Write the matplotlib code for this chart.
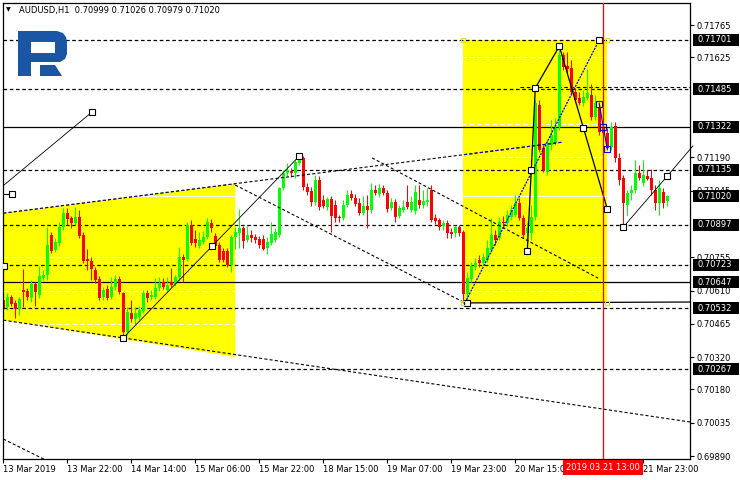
import numpy as np
import matplotlib
matplotlib.use("Agg")
import matplotlib.pyplot as plt
from matplotlib.patches import Polygon, Rectangle
from matplotlib.transforms import blended_transform_factory

plt.rcParams['font.family'] = ['DejaVu Sans']
plt.rcParams['lines.scale_dashes'] = False

# AUDUSD H1 candles, bar 0 = 13 Mar 2019 06:00
opens = [
    0.70569, 0.70539, 0.70582, 0.70556, 0.70530, 0.70613, 0.70608, 0.70578, 0.70639, 0.70591,
    0.70665, 0.70678, 0.70852, 0.70786, 0.70817, 0.70887, 0.70948, 0.70926, 0.70904, 0.70930,
    0.70852, 0.70747, 0.70739, 0.70700, 0.70660, 0.70582, 0.70617, 0.70582, 0.70626, 0.70660,
    0.70599, 0.70430, 0.70513, 0.70486, 0.70495, 0.70521, 0.70599, 0.70582, 0.70582, 0.70621,
    0.70647, 0.70613, 0.70647, 0.70639, 0.70669, 0.70756, 0.70747, 0.70895, 0.70834, 0.70804,
    0.70821, 0.70843, 0.70904, 0.70847, 0.70808, 0.70782, 0.70782, 0.70721, 0.70843, 0.70861,
    0.70882, 0.70830, 0.70852, 0.70843, 0.70834, 0.70834, 0.70795, 0.70817, 0.70830, 0.70852,
    0.71056, 0.71121, 0.71130, 0.71121, 0.71165, 0.71187, 0.71061, 0.71043, 0.70995, 0.71091,
    0.71004, 0.70974, 0.71008, 0.70982, 0.70930, 0.70926, 0.70982, 0.71030, 0.71013, 0.70991,
    0.70948, 0.70978, 0.70961, 0.71048, 0.71030, 0.71056, 0.71035, 0.70969, 0.70995, 0.70934,
    0.70961, 0.70995, 0.70961, 0.70956, 0.71004, 0.70982, 0.70995, 0.71048, 0.70926, 0.70917,
    0.70891, 0.70904, 0.70865, 0.70861, 0.70887, 0.70865, 0.70595, 0.70660, 0.70713, 0.70743,
    0.70730, 0.70743, 0.70786, 0.70852, 0.70839, 0.70908, 0.70904, 0.70930, 0.70939, 0.70991,
    0.70926, 0.70861, 0.70861, 0.70930, 0.71417, 0.71230, 0.71126, 0.71243, 0.71252, 0.71322,
    0.71635, 0.71587, 0.71578, 0.71474, 0.71448, 0.71426, 0.71448, 0.71461, 0.71365, 0.71409,
    0.71317, 0.71295, 0.71235, 0.71326, 0.71187, 0.71100, 0.70982, 0.71035, 0.71048, 0.71121,
    0.71078, 0.71108, 0.71100, 0.71048, 0.70991, 0.71039, 0.70999]
highs = [
    0.70582, 0.70599, 0.70591, 0.70569, 0.70582, 0.70704, 0.70621, 0.70656, 0.70647, 0.70717,
    0.70700, 0.70887, 0.70865, 0.70839, 0.70908, 0.70969, 0.70969, 0.70934, 0.70974, 0.70961,
    0.70865, 0.70791, 0.70756, 0.70713, 0.70673, 0.70626, 0.70634, 0.70669, 0.70678, 0.70673,
    0.70604, 0.70539, 0.70569, 0.70539, 0.70543, 0.70613, 0.70613, 0.70613, 0.70665, 0.70669,
    0.70665, 0.70669, 0.70708, 0.70678, 0.70800, 0.70769, 0.70908, 0.70917, 0.70874, 0.70865,
    0.70869, 0.70926, 0.70921, 0.70861, 0.70821, 0.70795, 0.70795, 0.70852, 0.70887, 0.70965,
    0.70891, 0.70891, 0.70874, 0.70856, 0.70847, 0.70852, 0.70843, 0.70908, 0.70882, 0.71061,
    0.71135, 0.71165, 0.71143, 0.71178, 0.71195, 0.71195, 0.71078, 0.71061, 0.71113, 0.71108,
    0.71026, 0.71017, 0.71021, 0.71004, 0.70939, 0.71004, 0.71048, 0.71048, 0.71030, 0.71013,
    0.71021, 0.71026, 0.71078, 0.71069, 0.71074, 0.71069, 0.71048, 0.71013, 0.71008, 0.70982,
    0.71004, 0.71069, 0.71021, 0.71069, 0.71069, 0.71048, 0.71056, 0.71069, 0.70943, 0.70926,
    0.70917, 0.70917, 0.70882, 0.70895, 0.70895, 0.70874, 0.70691, 0.70734, 0.70752, 0.70765,
    0.70774, 0.70830, 0.70926, 0.70874, 0.70930, 0.70934, 0.70961, 0.70982, 0.71026, 0.71013,
    0.70939, 0.70908, 0.70982, 0.71439, 0.71439, 0.71243, 0.71265, 0.71352, 0.71361, 0.71674,
    0.71648, 0.71648, 0.71613, 0.71491, 0.71474, 0.71482, 0.71574, 0.71509, 0.71461, 0.71430,
    0.71343, 0.71317, 0.71343, 0.71343, 0.71209, 0.71113, 0.71048, 0.71069, 0.71178, 0.71156,
    0.71178, 0.71135, 0.71139, 0.71069, 0.71091, 0.71056, 0.71026]
lows = [
    0.70526, 0.70526, 0.70543, 0.70491, 0.70504, 0.70539, 0.70569, 0.70560, 0.70543, 0.70578,
    0.70656, 0.70656, 0.70774, 0.70778, 0.70804, 0.70874, 0.70895, 0.70882, 0.70895, 0.70839,
    0.70730, 0.70700, 0.70656, 0.70643, 0.70569, 0.70569, 0.70569, 0.70573, 0.70613, 0.70595,
    0.70404, 0.70417, 0.70473, 0.70460, 0.70482, 0.70513, 0.70560, 0.70569, 0.70573, 0.70608,
    0.70617, 0.70604, 0.70626, 0.70630, 0.70656, 0.70647, 0.70739, 0.70808, 0.70800, 0.70795,
    0.70813, 0.70834, 0.70865, 0.70795, 0.70734, 0.70734, 0.70713, 0.70691, 0.70791, 0.70795,
    0.70795, 0.70821, 0.70821, 0.70817, 0.70795, 0.70786, 0.70769, 0.70808, 0.70821, 0.70843,
    0.71048, 0.71108, 0.71104, 0.71100, 0.71156, 0.71048, 0.71026, 0.70978, 0.70982, 0.70961,
    0.70969, 0.70961, 0.70865, 0.70908, 0.70908, 0.70917, 0.70974, 0.71004, 0.70978, 0.70939,
    0.70939, 0.70882, 0.70948, 0.71026, 0.71017, 0.71026, 0.70952, 0.70961, 0.70908, 0.70926,
    0.70952, 0.70965, 0.70952, 0.70943, 0.70969, 0.70969, 0.70978, 0.70908, 0.70900, 0.70874,
    0.70874, 0.70839, 0.70839, 0.70843, 0.70847, 0.70565, 0.70560, 0.70647, 0.70700, 0.70713,
    0.70721, 0.70734, 0.70778, 0.70808, 0.70830, 0.70882, 0.70891, 0.70917, 0.70930, 0.70917,
    0.70839, 0.70830, 0.70830, 0.70917, 0.71213, 0.71126, 0.71113, 0.71222, 0.71243, 0.71309,
    0.71570, 0.71556, 0.71461, 0.71430, 0.71417, 0.71413, 0.71439, 0.71352, 0.71352, 0.71287,
    0.71282, 0.71222, 0.71222, 0.71169, 0.71069, 0.70891, 0.70939, 0.71004, 0.71035, 0.71091,
    0.71065, 0.71091, 0.71026, 0.70961, 0.70939, 0.70969, 0.70979]
closes = [
    0.70534, 0.70582, 0.70552, 0.70530, 0.70573, 0.70604, 0.70582, 0.70639, 0.70604, 0.70673,
    0.70678, 0.70808, 0.70782, 0.70821, 0.70887, 0.70948, 0.70921, 0.70904, 0.70930, 0.70847,
    0.70739, 0.70739, 0.70704, 0.70656, 0.70578, 0.70613, 0.70578, 0.70626, 0.70660, 0.70604,
    0.70430, 0.70517, 0.70486, 0.70513, 0.70526, 0.70599, 0.70578, 0.70591, 0.70621, 0.70643,
    0.70626, 0.70634, 0.70634, 0.70669, 0.70756, 0.70743, 0.70895, 0.70817, 0.70817, 0.70830,
    0.70843, 0.70908, 0.70882, 0.70804, 0.70743, 0.70743, 0.70721, 0.70843, 0.70865, 0.70882,
    0.70826, 0.70852, 0.70839, 0.70830, 0.70808, 0.70791, 0.70821, 0.70856, 0.70865, 0.71056,
    0.71121, 0.71135, 0.71121, 0.71169, 0.71191, 0.71061, 0.71039, 0.70995, 0.71091, 0.70974,
    0.70978, 0.71008, 0.70934, 0.70926, 0.70926, 0.70982, 0.71026, 0.71013, 0.70987, 0.70948,
    0.70978, 0.70961, 0.71048, 0.71035, 0.71056, 0.71035, 0.70965, 0.70995, 0.70930, 0.70969,
    0.70974, 0.70974, 0.70995, 0.71039, 0.70982, 0.71000, 0.71004, 0.70917, 0.70913, 0.70887,
    0.70904, 0.70861, 0.70856, 0.70887, 0.70861, 0.70595, 0.70665, 0.70717, 0.70730, 0.70730,
    0.70756, 0.70795, 0.70852, 0.70830, 0.70908, 0.70904, 0.70939, 0.70961, 0.70991, 0.70926,
    0.70852, 0.70882, 0.70930, 0.71426, 0.71222, 0.71135, 0.71243, 0.71287, 0.71317, 0.71635,
    0.71583, 0.71574, 0.71474, 0.71439, 0.71426, 0.71452, 0.71469, 0.71365, 0.71426, 0.71300,
    0.71295, 0.71230, 0.71322, 0.71187, 0.71091, 0.70991, 0.71035, 0.71048, 0.71121, 0.71100,
    0.71113, 0.71095, 0.71048, 0.70991, 0.71056, 0.70991, 0.71020]

time_ticks = [0, 16, 32, 48, 64, 80, 96, 112, 128, 160]
time_labels = ['13 Mar 2019', '13 Mar 22:00', '14 Mar 14:00', '15 Mar 06:00', '15 Mar 22:00',
               '18 Mar 15:00', '19 Mar 07:00', '19 Mar 23:00', '20 Mar 15:00', '21 Mar 23:00']
cursor_bar = 150
cursor_label = '2019.03.21 13:00'

price_ticks = [0.71765, 0.71625, 0.71190, 0.71045, 0.70755, 0.70610, 0.70465,
               0.70320, 0.70180, 0.70035, 0.69890]
grid_levels = [0.71625, 0.71335, 0.71190, 0.70755, 0.70610, 0.70465, 0.70320]
dashed_levels = [0.71701, 0.71485, 0.71135, 0.70897, 0.70723, 0.70532, 0.70267]
solid_levels = [0.71322, 0.70647]
boxed_labels = [0.71701, 0.71485, 0.71322, 0.71135, 0.71020, 0.70897, 0.70723,
                0.70647, 0.70532, 0.70267]
bid = 0.71020

# drawing objects, anchors as (bar, price)
wedge_top = [(0.0, 0.70947), (58.0, 0.71076)]
wedge_bot = [(0.0, 0.70481), (58.0, 0.70321)]
box_right = (115, 151, 0.70556, 0.71701)
line_a = [(-0.1, 0.71065), (22.2, 0.71387)]
stub = [(-0.1, 0.71030), (2.2, 0.71030)]
line_b = [(30, 0.70404), (74, 0.71195)]
line_c = [(0, 0.70947), (140, 0.71256)]
line_d = [(0, 0.70481), (171.7, 0.70038)]
line_e = [(58, 0.71069), (115, 0.70560)]
line_f = [(92.2, 0.71187), (148.7, 0.70664)]
line_bl = [(0, 0.69964), (12, 0.69860)]
line_g = [(115.4, 0.70556), (149, 0.71701)]
zig1 = [(131, 0.70782), (133, 0.71491), (139, 0.71673), (151, 0.70965)]
zig2 = [(155, 0.70886), (166, 0.71108), (172.4, 0.71239)]
box_base = [(115.2, 0.70556), (171.7, 0.70560)]
upper_line = [(129.2, 0.71497), (171.7, 0.71497)]
black_sq = [(30, 0.70404), (52.2, 0.70803), (74, 0.71195), (22.2, 0.71387), (2.2, 0.71030),
            (0.2, 0.70717), (131, 0.70782), (133, 0.71491), (139, 0.71673), (145, 0.71317),
            (151, 0.70965), (155, 0.70886), (166, 0.71108), (115.9, 0.70556),
            (132, 0.71135), (149, 0.71701)]
blue_sq = [(149, 0.71422), (150, 0.71322), (151, 0.71226)]

W, H = 740, 480
fig = plt.figure(figsize=(W / 100, H / 100), dpi=100)
ax = fig.add_axes([3 / W, 21 / H, 687 / W, 456 / H])
ax.set_xlim(-0.075, 171.675)
ax.set_ylim(0.69877, 0.71861)

yellow = '#ffff00'
ax.add_patch(Polygon([(-5, 0.70936), wedge_top[1], wedge_bot[1], (-5, 0.70495)],
                     closed=True, fc=yellow, ec='none', zorder=0.5))
wedge = ax.patches[-1]
x0, x1, y0, y1 = box_right
ax.add_patch(Rectangle((x0, y0), x1 - x0, y1 - y0, fc=yellow, ec='none', zorder=0.5))
rect = ax.patches[-1]

# white grid / bid line only shows on the yellow areas
for v in grid_levels:
    ax.axhline(v, color='white', lw=0.8, dashes=(3.6, 1.9), zorder=0.8)
ax.axhline(bid, color='white', lw=0.8, zorder=0.8)

for v in dashed_levels:
    ax.axhline(v, color='black', lw=0.9, dashes=(2.6, 1.9), zorder=1)
for v in solid_levels:
    ax.axhline(v, color='black', lw=0.9, zorder=1)

# candles
o = np.array(opens)
c = np.array(closes)
hi = np.maximum(np.array(highs), np.maximum(o, c))
lo = np.minimum(np.array(lows), np.minimum(o, c))
xb = np.arange(len(o))
cols = np.where(c >= o, '#00ff00', '#ff0000')
ax.vlines(xb, lo, hi, colors=cols, lw=0.75, zorder=2)
ax.bar(xb, np.maximum(np.abs(c - o), 0.00003), bottom=np.minimum(o, c), width=0.75,
       color=cols, lw=0, zorder=2.1)


def seg(pts, **kw):
    xs, ys = zip(*pts)
    return ax.plot(xs, ys, **kw)[0]


dash = dict(color='black', lw=0.8, dashes=(2.2, 1.6), zorder=3)
for ln in (line_c, line_d, line_e, line_f, line_bl):
    seg(ln, **dash)
for patch in (wedge, rect):
    blue_c = seg(line_c, color='#0000ff', lw=0.8, dashes=(2.2, 1.6), zorder=3.1)
    blue_c.set_clip_path(patch)

seg(line_a, color='black', lw=0.6, zorder=3)
seg(stub, color='black', lw=0.8, zorder=3)
seg(line_b, color='black', lw=0.6, zorder=3)
seg(line_g, color='#0000ff', lw=0.9, dashes=(1.5, 0.8), zorder=3)
seg(zig1, color='black', lw=0.9, zorder=3)
l2 = seg(zig2, color='black', lw=0.6, zorder=3)
l2.set_clip_on(False)
seg(box_base, color='black', lw=0.9, zorder=3)
seg(upper_line, color='black', lw=0.8, dashes=(2.6, 1.9), zorder=1)
seg(blue_sq, color='#0000ff', lw=0.8, zorder=3)

ax.axvline(cursor_bar, color='#ff0000', lw=0.9, zorder=3.5)

sx, sy = zip(*black_sq)
ax.plot(sx, sy, ls='none', marker='s', ms=3.8, mfc='white', mec='black', mew=0.8, zorder=4)
bx, by = zip(*blue_sq)
ax.plot(bx, by, ls='none', marker='s', ms=3.8, mfc='none', mec='#0000ff', mew=0.8, zorder=4)
ax.plot([x0, x1, x0, x1], [y1, y1, y0, y0], ls='none', marker='s', ms=3.5, mfc='none',
        mec='#e8e800', mew=0.8, zorder=4, clip_on=False)

# axes styling
for sp in ax.spines.values():
    sp.set_color('black')
    sp.set_linewidth(0.9)
ax.yaxis.tick_right()
ax.set_yticks(price_ticks)
ax.set_yticklabels([f'{v:.5f}' for v in price_ticks])
ax.set_xticks(time_ticks)
ax.set_xticklabels(time_labels, ha='left')
ax.tick_params(axis='y', length=2.9, width=0.8, pad=2, labelsize=6, colors='black')
ax.tick_params(axis='x', length=2.9, width=0.8, pad=1.5, labelsize=6, colors='black')

blend_y = blended_transform_factory(ax.transAxes, ax.transData)
for v in boxed_labels:
    ax.add_patch(Rectangle((1.0044, v - 0.00026), 0.067, 0.00052, transform=blend_y,
                           fc='black', ec='none', clip_on=False, zorder=10))
    ax.text(1.0102, v, f'{v:.5f}', transform=blend_y, ha='left', va='center',
            fontsize=6, color='white', zorder=11, clip_on=False)

blend_x = blended_transform_factory(ax.transData, ax.transAxes)
ax.add_patch(Rectangle((cursor_bar - 10, -0.036), 20, 0.034, transform=blend_x,
                       fc='#ff0000', ec='none', clip_on=False, zorder=10))
ax.text(cursor_bar, -0.019, cursor_label, transform=blend_x, ha='center', va='center',
        fontsize=6, color='white', zorder=11, clip_on=False)

# overlay in pixel space for the header and logo
ov = fig.add_axes([0, 0, 1, 1])
ov.set_xlim(0, W)
ov.set_ylim(H, 0)
ov.axis('off')
ov.patch.set_alpha(0)
ov.text(8, 10, '\u25bc', fontsize=4.5, ha='center', va='center')
ov.text(19, 10, 'AUDUSD,H1  0.70999 0.71026 0.70979 0.71020', fontsize=6,
        ha='left', va='center')
logo_blue = '#1a56a4'
ov.add_patch(Polygon([(18, 31), (57, 31), (63, 33), (66, 37), (67, 42), (67, 54), (65, 59),
                      (60, 62), (31, 62), (31, 76), (18, 76)], closed=True, fc=logo_blue, ec='none'))
ov.add_patch(Rectangle((31, 42), 24, 11, fc='white', ec='none'))
ov.add_patch(Polygon([(40, 65), (55, 65), (62, 76), (40, 76)], closed=True, fc=logo_blue, ec='none'))

fig.savefig('out.png', dpi=100)
